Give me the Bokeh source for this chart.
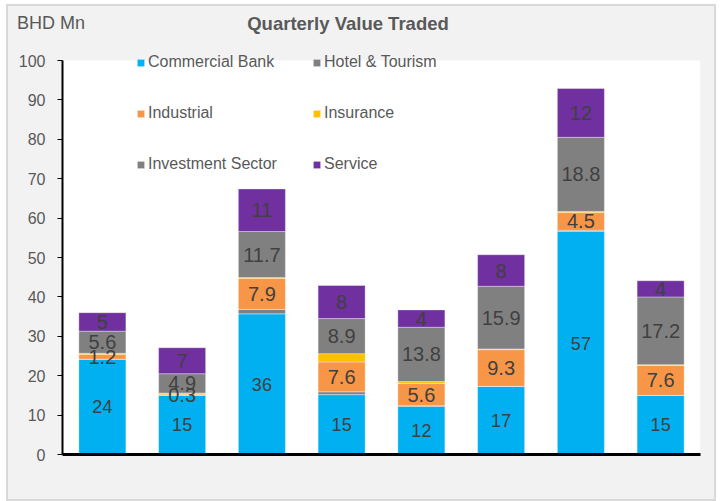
import numpy as np
from bokeh.plotting import figure
from bokeh.layouts import column
from bokeh.models import (ColumnDataSource, Legend, LegendItem, FactorRange, Range1d,
                          FixedTicker, BoxAnnotation, Div)
from bokeh.embed import file_html
from bokeh.resources import INLINE
from bokeh.core.properties import value

# ---- data ----
quarters = ["Q1", "Q2", "Q3", "Q4", "Q5", "Q6", "Q7", "Q8"]
commercial_bank = [24.2, 15.0, 35.7, 15.2, 12.2, 17.3, 56.6, 15.0]
hotel_tourism = [0.0, 0.0, 1.1, 0.7, 0.2, 0.0, 0.3, 0.0]
industrial = [1.2, 0.3, 7.9, 7.6, 5.6, 9.3, 4.5, 7.6]
insurance = [0.3, 0.3, 0.2, 2.1, 0.5, 0.2, 0.3, 0.2]
investment_sector = [5.6, 4.9, 11.7, 8.9, 13.8, 15.9, 18.8, 17.2]
service = [4.7, 6.6, 10.8, 8.4, 4.4, 8.0, 12.4, 4.1]

series_names = ["Commercial Bank", "Hotel & Tourism", "Industrial", "Insurance",
                "Investment Sector", "Service"]
series_values = [commercial_bank, hotel_tourism, industrial, insurance,
                 investment_sector, service]
series_colors = ["#00B0F0", "#808080", "#F79646", "#FFC000", "#808080", "#7030A0"]
series_formats = ["{:.0f}", None, "{:.1f}", None, "{:.1f}", "{:.0f}"]
series_label_sizes = ["18px", None, "20px", None, "20px", "20px"]

y_ticks = [0, 10, 20, 30, 40, 50, 60, 70, 80, 90, 100]
title_text = "Quarterly Value Traded"
unit_text = "BHD Mn"

FONT = "Liberation Sans"
TXT = "#595959"
W = 716

keys = ["s%d" % i for i in range(len(series_names))]
data = {"q": quarters}
for k, v in zip(keys, series_values):
    data[k] = v
src = ColumnDataSource(data)

p = figure(width=W, height=453, x_range=FactorRange(*quarters), y_range=Range1d(0, 103.05),
           output_backend="svg", toolbar_location=None, margin=(0, 0, 0, 0),
           min_border_left=62, min_border_right=W - 700, min_border_top=0, min_border_bottom=47)
p.border_fill_alpha = 0
p.background_fill_alpha = 0
p.outline_line_color = None
p.grid.visible = False

# white plot area from 0 to 100
p.add_layout(BoxAnnotation(bottom=0, top=100, fill_color="white", fill_alpha=1,
                           line_color=None, level="underlay"))

renderers = p.vbar_stack(keys, x="q", width=0.59, color=series_colors, source=src,
                         line_color="white", line_alpha=0.35, line_width=1)

bottoms = np.zeros(len(quarters))
for vals, fmt, size in zip(series_values, series_formats, series_label_sizes):
    arr = np.array(vals, dtype=float)
    if fmt is not None:
        lsrc = ColumnDataSource(dict(q=quarters, y=(bottoms + arr / 2).tolist(),
                                     t=[fmt.format(v) for v in vals]))
        p.text(x="q", y="y", text="t", source=lsrc, text_align="center",
               text_baseline="middle", text_font=value(FONT),
               text_font_size=size, text_color="#404040")
    bottoms = bottoms + arr

p.yaxis.ticker = FixedTicker(ticks=y_ticks)
p.yaxis.bounds = (0, 100)
p.yaxis.axis_line_color = "black"
p.yaxis.axis_line_width = 2
p.yaxis.major_tick_line_color = "black"
p.yaxis.major_tick_in = 0
p.yaxis.major_tick_out = 5
p.yaxis.minor_tick_line_color = None
p.yaxis.major_label_standoff = 12
p.yaxis.major_label_text_font = FONT
p.yaxis.major_label_text_font_size = "16px"
p.yaxis.major_label_text_color = TXT

p.xaxis.axis_line_color = "black"
p.xaxis.axis_line_width = 3
p.xaxis.major_tick_line_color = None
p.xaxis.minor_tick_line_color = None
p.xaxis.major_label_text_color = None
p.xaxis.major_label_text_font_size = "1px"

items = [LegendItem(label=n, renderers=[r]) for n, r in zip(series_names, renderers)]
legend = Legend(items=items, location=(74, 280), orientation="horizontal", ncols=2,
                glyph_width=9, glyph_height=9, label_standoff=3, label_width=133,
                label_height=20, spacing=31, padding=0, margin=0,
                background_fill_alpha=0, border_line_color=None,
                label_text_font=FONT, label_text_font_size="16px", label_text_color=TXT)
p.add_layout(legend, "center")

header_html = (
    '<div style="position:relative;width:%dpx;height:48px;font-family:\'Liberation Sans\';'
    'color:%s;">'
    '<span style="position:absolute;left:17px;top:13px;font-size:18px;line-height:20px;'
    'white-space:nowrap;">%s</span>'
    '<span style="position:absolute;left:148px;width:400px;top:14px;text-align:center;'
    'font-size:18.5px;font-weight:bold;line-height:20px;white-space:nowrap;">%s</span>'
    '</div>' % (W, TXT, unit_text, title_text)
)
header = Div(text=header_html, width=W, height=48, margin=(0, 0, 0, 0))

layout = column(header, p, spacing=0, width=W, height=501, margin=(0, 0, 0, 0), styles={
    "background-color": "#F2F2F2",
    "box-shadow": "inset 6px 4px 0 0 white, inset 8px 6px 0 0 #D9D9D9, "
                  "inset -2px -2px 0 0 #D9D9D9",
})

open("out.html", "w").write(file_html(layout, INLINE))
